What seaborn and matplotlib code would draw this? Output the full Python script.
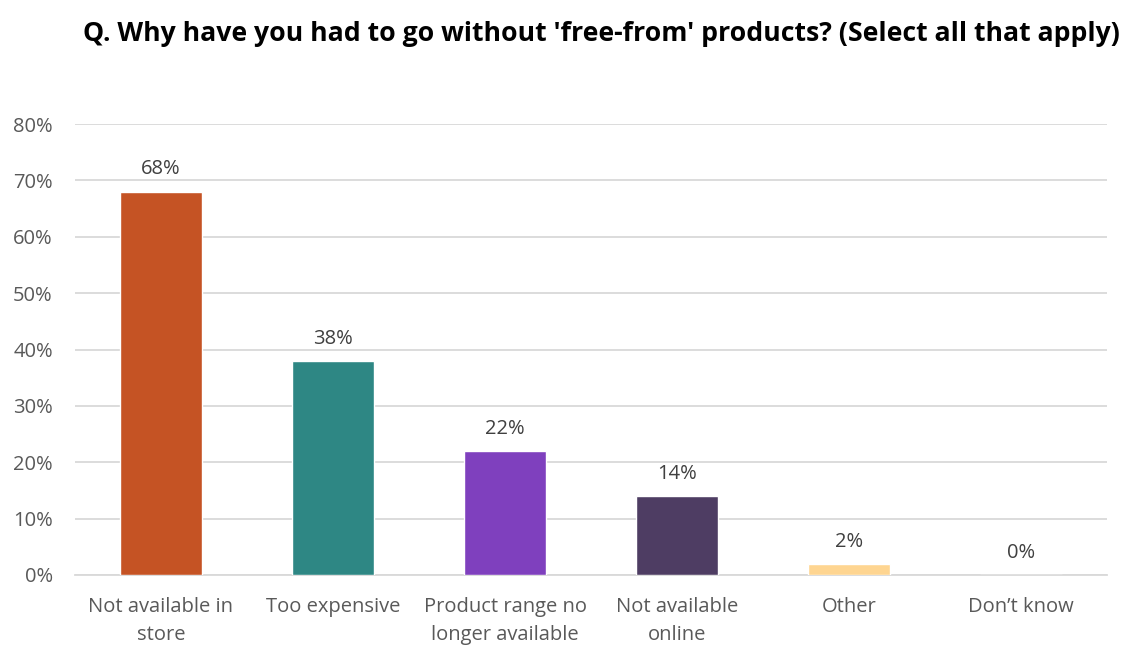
import numpy as np
import pandas as pd
import matplotlib
matplotlib.use("Agg")
import matplotlib.pyplot as plt
import seaborn as sns

categories = ["Not available in\nstore", "Too expensive", "Product range no\nlonger available",
              "Not available\nonline", "Other", "Don\u2019t know"]
values = [68, 38, 22, 14, 2, 0]
colors = ["#C55324", "#2E8784", "#7F40BE", "#4E3D63", "#FED591", "#A5A5A5"]
yticks = [0, 10, 20, 30, 40, 50, 60, 70, 80]
title = "Q. Why have you had to go without 'free-from' products? (Select all that apply)"

sns.set_theme(style="white")
plt.rcParams["font.family"] = ["Open Sans", "DejaVu Sans"]

df = pd.DataFrame({"category": categories, "value": values})

fig = plt.figure(figsize=(11.25, 6.48), dpi=100)
ax = fig.add_axes([75 / 1125, 1 - 575 / 648, (1107 - 75) / 1125, (575 - 124) / 648])

sns.barplot(data=df, x="category", y="value", hue="category", palette=colors,
            width=0.48, legend=False, ax=ax, saturation=1, zorder=3)

ax.set_ylim(0, 80)
ax.set_xlim(-0.5, len(categories) - 0.5)
ax.set_yticks(yticks)
ax.set_yticklabels([f"{t}%" for t in yticks], fontsize=14.5, color="#595959")
ax.yaxis.grid(True, color="#D9D9D9", linewidth=1.3, zorder=0)
ax.set_axisbelow(True)
ax.tick_params(axis="y", length=0, pad=16)

ax.set_xticks(range(len(categories)))
ax.set_xticklabels(categories, fontsize=14.5, color="#595959", linespacing=1.5)
ax.tick_params(axis="x", which="major", length=0, pad=16)
ax.set_xticks(np.arange(-0.5, len(categories)), minor=True)
ax.tick_params(axis="x", which="minor", length=8, width=1.3, color="#D9D9D9", direction="out")

for s in ["top", "right", "left"]:
    ax.spines[s].set_visible(False)
ax.spines["bottom"].set_color("#D9D9D9")
ax.spines["bottom"].set_linewidth(1.3)

ax.set_xlabel("")
ax.set_ylabel("")

for i, v in enumerate(values):
    ax.annotate(f"{v}%", (i, v), xytext=(0, 16), textcoords="offset points",
                ha="center", va="center", fontsize=14.5, color="#404040")

fig.text(601 / 1125, 1 - 34 / 648, title, ha="center", va="center",
         fontsize=19.2, fontweight="bold", color="#000000")

fig.savefig("out.png", dpi=100, facecolor="white")
